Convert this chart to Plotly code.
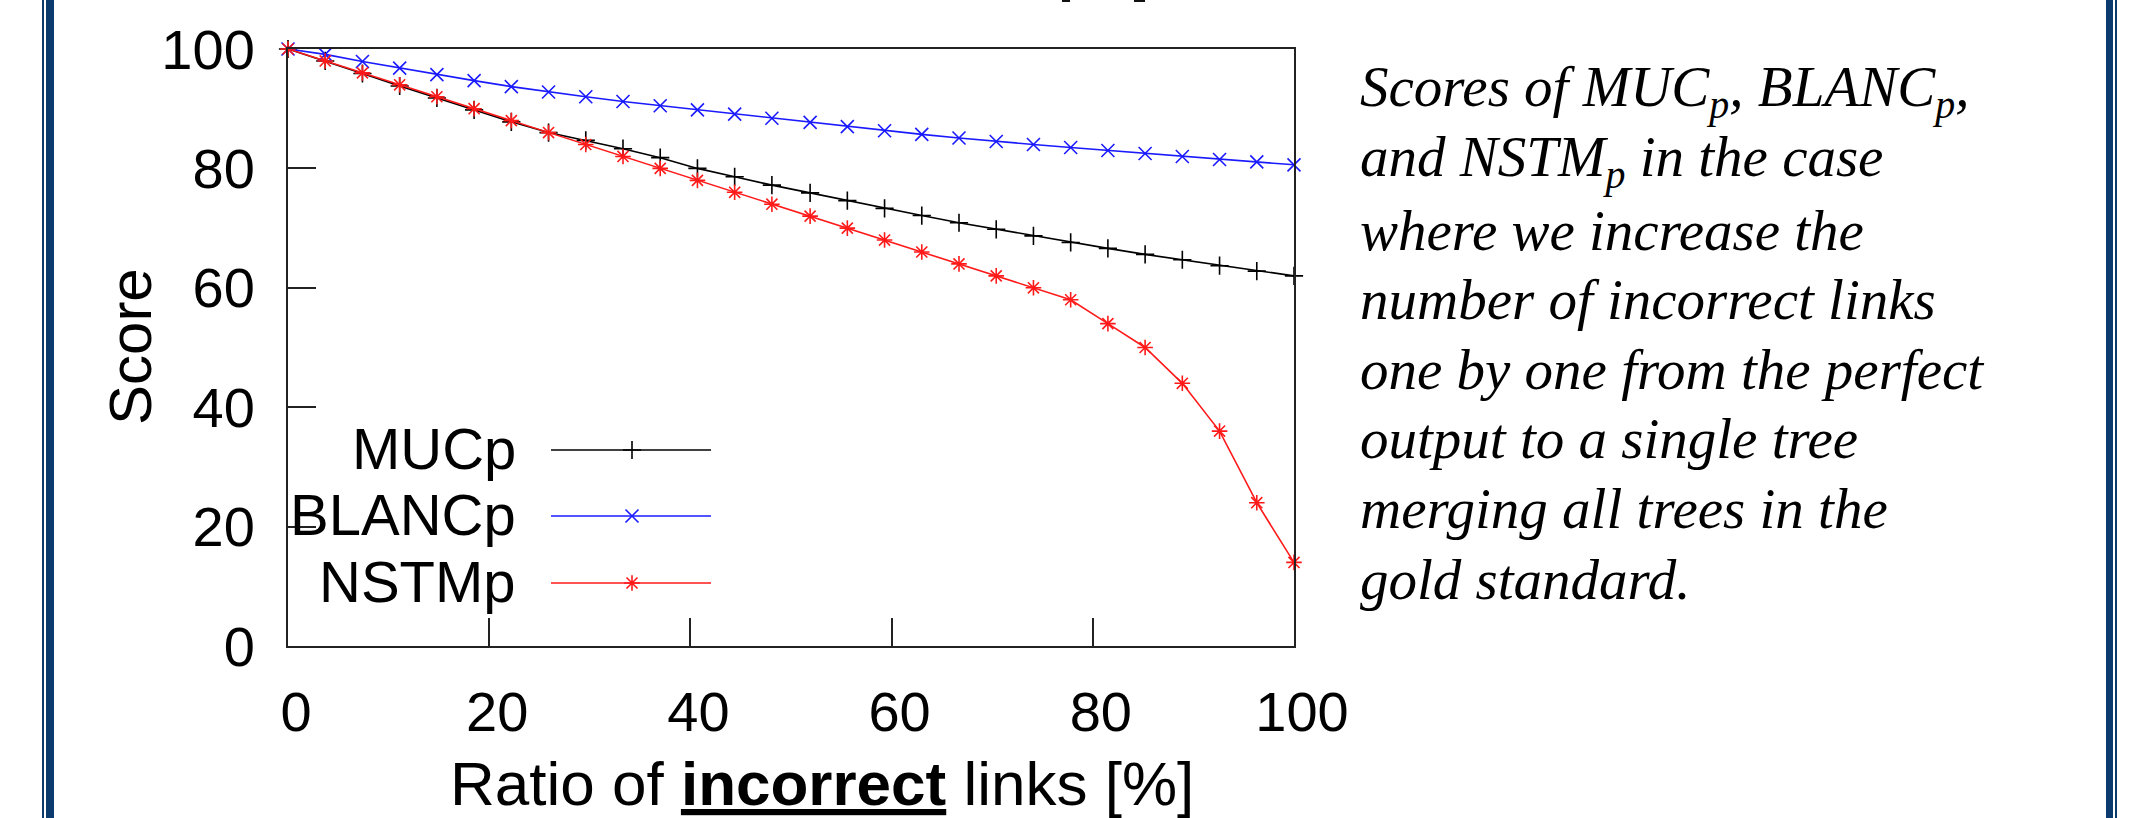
import plotly.graph_objects as go

# ---------------- data ----------------
ratio = [0, 3.7, 7.4, 11.1, 14.8, 18.5, 22.2, 25.9, 29.6, 33.3, 37.0, 40.7, 44.4, 48.1,
         51.9, 55.6, 59.3, 63.0, 66.7, 70.4, 74.1, 77.8, 81.5, 85.2, 88.9, 92.6, 96.3, 100]
muc_p = [100, 98.0, 95.9, 93.8, 91.8, 89.8, 87.8, 86.0, 84.7, 83.3, 81.8, 80.0, 78.6, 77.2,
         75.9, 74.6, 73.3, 72.1, 70.9, 69.8, 68.7, 67.6, 66.6, 65.6, 64.7, 63.7, 62.8, 62.0]
blanc_p = [100, 99.1, 97.9, 96.8, 95.7, 94.7, 93.7, 92.8, 92.0, 91.2, 90.5, 89.8, 89.1, 88.4,
           87.7, 87.0, 86.3, 85.7, 85.1, 84.5, 84.0, 83.5, 83.0, 82.5, 82.0, 81.5, 81.1, 80.6]
nstm_p = [100, 98, 96, 94, 92, 90, 88, 86, 84, 82, 80, 78, 76, 74,
          72, 70, 68, 66, 64, 62, 60, 58, 54, 50, 44, 36, 24, 14]

series_names = ["MUCp", "BLANCp", "NSTMp"]
series_values = [muc_p, blanc_p, nstm_p]
series_colors = ["#000000", "#1a1aff", "#ff1a1a"]
series_symbols = ["cross-thin", "x-thin", "asterisk"]

x_ticks = [0, 20, 40, 60, 80, 100]
y_ticks = [0, 20, 40, 60, 80, 100]

caption_lines = [
    "Scores of MUC<sub>p</sub>, BLANC<sub>p</sub>,",
    "and NSTM<sub>p</sub> in the case",
    "where we increase the",
    "number of incorrect links",
    "one by one from the perfect",
    "output to a single tree",
    "merging all trees in the",
    "gold standard.",
]

# ---------------- layout geometry (pixels) ----------------
W, H = 2129, 818
PL, PR, PT, PB = 288, 1294, 49, 646   # plot area edges


def px_x(p):
    return (p - PL) / (PR - PL)


def px_y(p):
    return (PB - p) / (PB - PT)


SANS = "Liberation Sans, Arial, sans-serif"
SERIF = "Liberation Serif, Times New Roman, serif"

fig = go.Figure()

for name, vals, col, sym in zip(series_names, series_values, series_colors, series_symbols):
    fig.add_trace(go.Scatter(
        x=ratio, y=vals, name=name, mode="lines+markers",
        line=dict(color=col, width=1.6),
        marker=dict(symbol=sym, size=13, color=col, line=dict(color=col, width=1.6)),
        cliponaxis=False, showlegend=False,
    ))

# ---- custom legend (text on the left, sample on the right), in pixel axes ----
LEG_TEXT_RIGHT = 518
LEG_LINE_X0, LEG_LINE_X1, LEG_MARK_X = 551, 711, 632
LEG_ROWS_Y = [450, 516, 583]
for name, col, sym, ly in zip(series_names, series_colors, series_symbols, LEG_ROWS_Y):
    fig.add_trace(go.Scatter(
        x=[LEG_LINE_X0, LEG_LINE_X1], y=[ly, ly], mode="lines",
        line=dict(color=col, width=1.6), xaxis="x2", yaxis="y2",
        showlegend=False, hoverinfo="skip", cliponaxis=False,
    ))
    fig.add_trace(go.Scatter(
        x=[LEG_MARK_X], y=[ly], mode="markers",
        marker=dict(symbol=sym, size=13, color=col, line=dict(color=col, width=1.6)),
        xaxis="x2", yaxis="y2", showlegend=False, hoverinfo="skip", cliponaxis=False,
    ))

annotations = []
for name, ly in zip(series_names, LEG_ROWS_Y):
    annotations.append(dict(
        x=LEG_TEXT_RIGHT, y=ly - 2, xref="x2", yref="y2", text=name, showarrow=False,
        xanchor="right", yanchor="middle", font=dict(family=SANS, size=58, color="black"),
    ))

# axis titles
annotations.append(dict(
    x=px_x(822), y=px_y(783), xref="paper", yref="paper",
    text="Ratio of <b><u>incorrect</u></b> links [%]", showarrow=False,
    xanchor="center", yanchor="middle", font=dict(family=SANS, size=62, color="black"),
))
annotations.append(dict(
    x=px_x(130), y=px_y(347), xref="paper", yref="paper", text="Score",
    showarrow=False, textangle=-90, xanchor="center", yanchor="middle",
    font=dict(family=SANS, size=60, color="black"),
))

# caption text lines
CAP_X = 1358
CAP_BASELINES = [110, 180, 250, 318, 388, 458, 528, 598]
for txt, bl in zip(caption_lines, CAP_BASELINES):
    annotations.append(dict(
        x=px_x(CAP_X), y=px_y(bl - 19), xref="paper", yref="paper", text=f"<i>{txt}</i>",
        showarrow=False, xanchor="left", yanchor="middle",
        font=dict(family=SERIF, size=57, color="black"),
    ))

# ---- decorative page borders ----
BORDER = "#0b3a6e"
shapes = []
for x0, x1 in [(42, 44), (46, 54), (2106, 2113), (2115, 2117)]:
    shapes.append(dict(type="rect", xref="paper", yref="paper",
                       x0=px_x(x0), x1=px_x(x1), y0=px_y(H + 5), y1=px_y(-5),
                       fillcolor=BORDER, line=dict(width=0), layer="above"))
# tiny cut-off glyph bottoms at the top edge
for x0, x1 in [(1062, 1070), (1134, 1145)]:
    shapes.append(dict(type="rect", xref="paper", yref="paper",
                       x0=px_x(x0), x1=px_x(x1), y0=px_y(2), y1=px_y(-2),
                       fillcolor="#111111", line=dict(width=0)))

axis_font = dict(family=SANS, size=56, color="black")
fig.update_layout(
    width=W, height=H, autosize=False,
    margin=dict(l=PL, r=W - PR, t=PT, b=H - PB, pad=0),
    paper_bgcolor="white", plot_bgcolor="white",
    showlegend=False,
    xaxis=dict(range=[0, 100], tickvals=x_ticks, ticktext=[str(v) for v in x_ticks],
               ticks="inside", ticklen=28, tickwidth=2, tickcolor="#222",
               showline=True, linecolor="#222", linewidth=2, mirror=True,
               showgrid=False, zeroline=False, tickfont=axis_font,
               ticklabelstandoff=16, ticklabelshift=8, fixedrange=True),
    yaxis=dict(range=[0, 100], tickvals=y_ticks, ticktext=[str(v) for v in y_ticks],
               ticks="inside", ticklen=28, tickwidth=2, tickcolor="#222",
               showline=True, linecolor="#222", linewidth=2, mirror=True,
               showgrid=False, zeroline=False, tickfont=axis_font,
               ticklabelstandoff=20, fixedrange=True),
    xaxis2=dict(range=[PL, PR], overlaying="x", visible=False, fixedrange=True),
    yaxis2=dict(range=[PB, PT], overlaying="y", visible=False, fixedrange=True),
    annotations=annotations,
    shapes=shapes,
)

fig.write_html("out.html", config={"displayModeBar": False},
               post_script="document.body.style.margin='0';")
